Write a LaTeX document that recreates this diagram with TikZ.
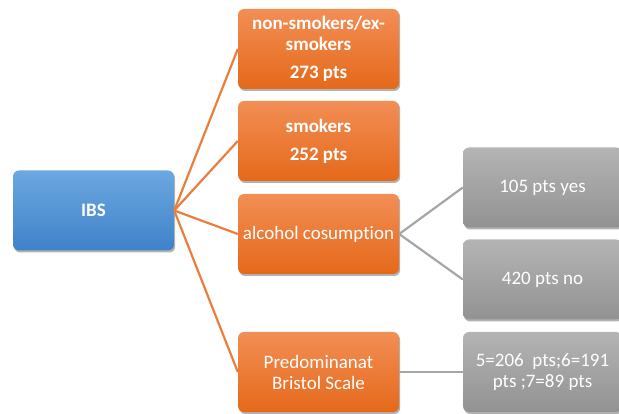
\documentclass[tikz,border=0pt]{standalone}
\usepackage{fontspec}
\setmainfont{Carlito}[Ligatures=NoCommon]
\usetikzlibrary{shadows}
\definecolor{orT}{HTML}{F28E55}
\definecolor{orB}{HTML}{E5691A}
\definecolor{blT}{HTML}{6CA8E0}
\definecolor{blB}{HTML}{3F82CA}
\definecolor{grT}{HTML}{B4B4B4}
\definecolor{grB}{HTML}{929292}
\definecolor{orL}{HTML}{E97E3E}
\definecolor{grL}{HTML}{A6A6A6}
\begin{document}
\begin{tikzpicture}[x=1pt,y=-1pt,
  box/.style={rounded corners=6pt, minimum width=161pt, minimum height=80pt, inner sep=2pt,
    align=center, text=white, font=\fontsize{19}{21}\selectfont,
    drop shadow={shadow xshift=1.2pt, shadow yshift=-2pt, opacity=0.3, fill=black}},
  obox/.style={box, top color=orT, bottom color=orB},
  bbox/.style={box, top color=blT, bottom color=blB},
  gbox/.style={box, top color=grT, bottom color=grB, minimum width=159pt},
  oline/.style={draw=orL, line width=2.2pt},
  gline/.style={draw=grL, line width=2.2pt}
]
\useasboundingbox (0,0) rectangle (619,414);

\node[bbox, font=\fontsize{19}{21}\selectfont\bfseries] (ibs) at (93.5,210.5) {IBS};

\node[obox, font=\fontsize{19}{21}\selectfont\bfseries] (non) at (318.5,49) {non-smokers/ex-\\smokers\\[7pt]273 pts};
\node[obox, font=\fontsize{19}{21}\selectfont\bfseries] (smk) at (318.5,141) {smokers\\[7pt]252 pts};
\node[obox] (alc) at (318.5,234) {alcohol cosumption};
\node[obox] (bri) at (318.5,372) {Predominanat\\Bristol Scale};

\node[gbox] (yes) at (542.5,187.5) {105 pts yes};
\node[gbox] (no) at (542.5,279.5) {420 pts no};
\node[gbox] (bsc) at (542.5,372) {5=206\ \ pts;6=191\\pts ;7=89 pts};

\draw[oline] (ibs.east) -- (non.west);
\draw[oline] (ibs.east) -- (smk.west);
\draw[oline] (ibs.east) -- (alc.west);
\draw[oline] (ibs.east) -- (bri.west);

\draw[gline] (alc.east) -- (yes.west);
\draw[gline] (alc.east) -- (no.west);
\draw[gline] (bri.east) -- (bsc.west);
\end{tikzpicture}
\end{document}
